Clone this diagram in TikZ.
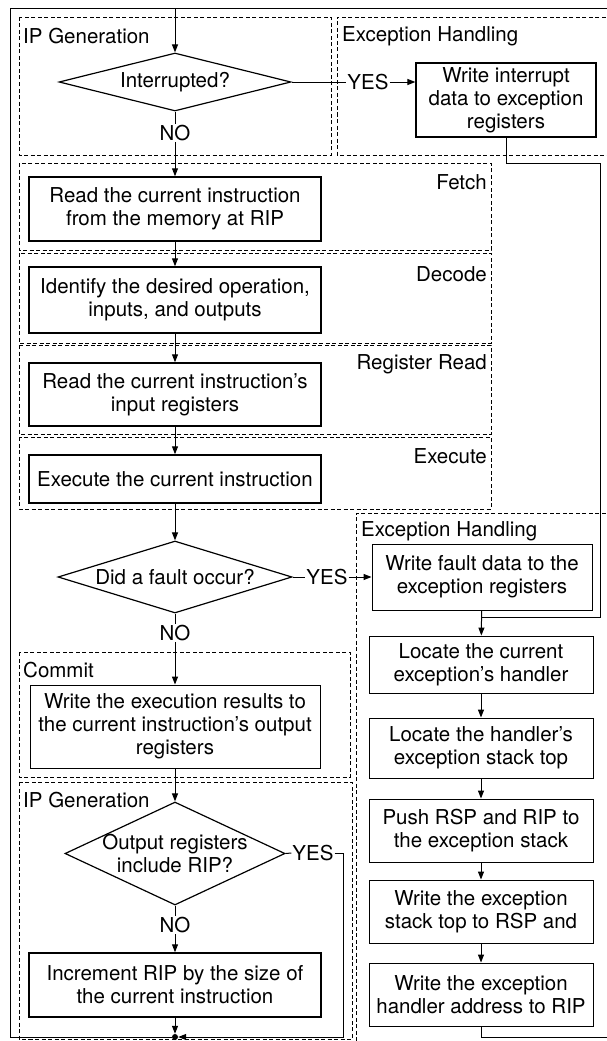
\documentclass[tikz,border=0pt]{standalone}
\usepackage{fontspec}
\setmainfont{TeX Gyre Heros}
\usetikzlibrary{arrows.meta,shapes.geometric}

\begin{document}
\begin{tikzpicture}[x=1pt,y=-1pt,
  every node/.style={font=\fontsize{20.5}{23}\selectfont},
  proc/.style={draw, line width=1.5pt, inner sep=0pt, align=center},
  thinproc/.style={draw, line width=0.9pt, inner sep=0pt, align=center},
  decision/.style={draw, diamond, line width=1.2pt, inner sep=0pt, aspect=2},
  stage/.style={draw, line width=0.9pt, dash pattern=on 4pt off 2.5pt},
  flow/.style={line width=1pt},
  arr/.style={flow, -{Triangle[length=8pt,width=6pt]}},
  lbl/.style={inner sep=1pt},
  stagelbl/.style={inner sep=0pt},
]
\useasboundingbox (0,0) rectangle (607,1041);

% ---- stage frames ----
\draw[stage] (19,17) rectangle (331,155);
\draw[stage] (612,17) -- (337,17) -- (337,155) -- (612,155);
\draw[stage] (19,163) rectangle (491,250);
\draw[stage] (19,253) rectangle (491,343);
\draw[stage] (19,345) rectangle (491,434);
\draw[stage] (19,437) rectangle (491,509);
\draw[stage] (612,513) -- (356,513) -- (356,1045);
\draw[stage] (19,652) rectangle (350,777);
\draw[stage] (19,782) rectangle (352,1039);

\node[stagelbl, anchor=west] (lipg1) at (23,36) {IP Generation};
\node[stagelbl, anchor=west] (lexc1) at (342,36) {Exception Handling};
\node[stagelbl, anchor=east] (lfetch) at (487,182) {Fetch};
\node[stagelbl, anchor=east] (ldec) at (487,274) {Decode};
\node[stagelbl, anchor=east] (lreg) at (487,364) {Register Read};
\node[stagelbl, anchor=east] (lexe) at (487,456) {Execute};
\node[stagelbl, anchor=west] (lexc2) at (361,531) {Exception Handling};
\node[stagelbl, anchor=west] (lcom) at (23,670) {Commit};
\node[stagelbl, anchor=west] (lipg2) at (23,800) {IP Generation};

% ---- main column ----
\node[decision, minimum width=232, minimum height=58] (d1) at (175,82) {};
\node at (d1) {Interrupted?};
\node[lbl] (yes1) at (368,82) {YES};
\node[lbl] (no1) at (175,133) {NO};
\node[thinproc, line width=1.2pt, minimum width=180, minimum height=74] (intr) at (506,100)
  {Write interrupt\\data to exception\\registers};

\node[proc, minimum width=292, minimum height=64] (read) at (175,209)
  {Read the current instruction\\from the memory at RIP};
\node[proc, minimum width=292, minimum height=66] (ident) at (175,300)
  {Identify the desired operation,\\inputs, and outputs};
\node[proc, minimum width=292, minimum height=63] (regs) at (175,394.5)
  {Read the current instruction's\\input registers};
\node[proc, minimum width=292, minimum height=48] (exec) at (175,479)
  {Execute the current instruction};

\node[decision, minimum width=234, minimum height=72] (d2) at (175,577) {};
\node at (d2) {Did a fault occur?};
\node[lbl] (yes2) at (327,577) {YES};
\node[lbl] (no2) at (175,633) {NO};

\node[thinproc, minimum width=290, minimum height=83] (commit) at (175,726.5)
  {Write the execution results to\\the current instruction's output\\registers};

\node[decision, minimum width=220, minimum height=103] (d3) at (175,853.5) {};
\node[align=center] at (d3) {Output registers\\include RIP?};
\node[lbl] (yes3) at (313,853) {YES};
\node[lbl] (no3) at (175,925) {NO};
\node[proc, minimum width=292, minimum height=64] (inc) at (175,985)
  {Increment RIP by the size of\\the current instruction};
\node[circle, fill, inner sep=0pt, minimum size=6pt] (junc) at (175,1037) {};

% ---- exception column ----
\node[thinproc, minimum width=220, minimum height=66] (fault) at (482,577)
  {Write fault data to the\\exception registers};
\node[thinproc, minimum width=224, minimum height=57] (loc1) at (481,664.5)
  {Locate the current\\exception's handler};
\node[thinproc, minimum width=224, minimum height=60] (loc2) at (481,748)
  {Locate the handler's\\exception stack top};
\node[thinproc, minimum width=224, minimum height=63] (push) at (481,830.5)
  {Push RSP and RIP to\\the exception stack};
\node[thinproc, minimum width=224, minimum height=63] (wtop) at (481,911.5)
  {Write the exception\\stack top to RSP and};
\node[thinproc, minimum width=224, minimum height=63] (whand) at (481,994.5)
  {Write the exception\\handler address to RIP};

\coordinate (topin) at (175,9);
\coordinate (merge) at (481,617);

% ---- connectors ----
\draw[flow] (junc.west) -- (10,1037) -- (10,9) -- (612,9);
\draw[arr] (topin) -- (d1.north);
\draw[flow] (d1.east) -- (yes1.west);
\draw[arr] (yes1.east) -- (yes1.east -| intr.west);
\draw[flow] (d1.south) -- (no1.north);
\draw[arr] (no1.south) -- (read.north);
\draw[arr] (read) -- (ident);
\draw[arr] (ident) -- (regs);
\draw[arr] (regs) -- (exec);
\draw[arr] (exec) -- (d2.north);
\draw[flow] (d2.east) -- (yes2.west);
\draw[arr] (yes2.east) -- (yes2.east -| fault.west);
\draw[flow] (d2.south) -- (no2.north);
\draw[arr] (no2.south) -- (commit.north);
\draw[arr] (commit) -- (d3.north);
\draw[flow] (d3.east) -- (yes3.west);
\draw[arr] (yes3.east) -| (343,1037) -- (junc.east);
\draw[flow] (d3.south) -- (no3.north);
\draw[arr] (no3.south) -- (inc.north);
\draw[arr] (inc) -- (junc.north);

\draw[flow] (intr.south) |- (600,163) |- (merge);
\draw[arr] (fault) -- (loc1);
\draw[arr] (loc1) -- (loc2);
\draw[arr] (loc2) -- (push);
\draw[arr] (push) -- (wtop);
\draw[arr] (wtop) -- (whand);
\draw[flow] (whand.south) |- (612,1037);
\end{tikzpicture}
\end{document}
